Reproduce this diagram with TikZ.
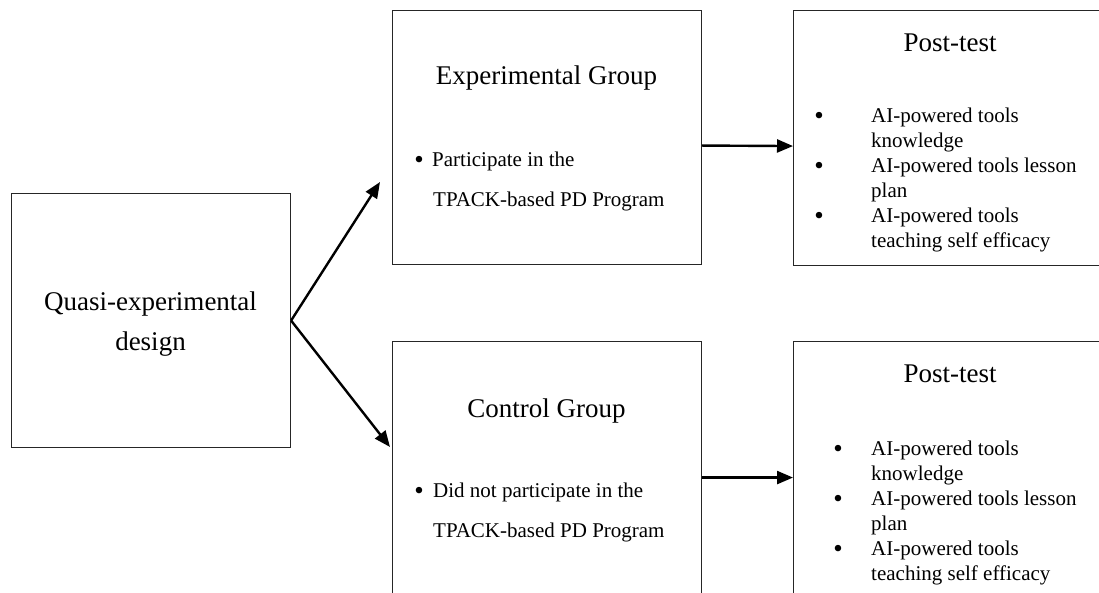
\documentclass[tikz,border=0pt]{standalone}
\usepackage{fontspec}
\setmainfont{Liberation Serif}
\usetikzlibrary{arrows.meta}
\begin{document}
\begin{tikzpicture}[x=1pt,y=-1pt,
  box/.style={draw=black!85, line width=1.1pt, inner sep=0pt, anchor=north west},
  title/.style={font=\fontsize{27}{32}\selectfont, anchor=base, inner sep=0pt},
  body/.style={font=\fontsize{21}{25}\selectfont, anchor=base west, inner sep=0pt},
  dot/.style={font=\fontsize{27}{32}\selectfont, anchor=base, inner sep=0pt},
  arr/.style={-{Triangle[length=16pt,width=13pt]}, line width=2.4pt}]
\useasboundingbox (0,0) rectangle (1099,593);
\clip (0,0) rectangle (1099,593);
% boxes
\node[box, minimum width=279pt, minimum height=254pt] (qed) at (11,193) {};
\node[box, minimum width=309pt, minimum height=254pt] (exp) at (392,10) {};
\node[box, minimum width=320pt, minimum height=255pt] (post1) at (793,10) {};
\node[box, minimum width=309pt, minimum height=300pt] (ctl) at (392,341) {};
\node[box, minimum width=320pt, minimum height=300pt] (post2) at (793,341) {};
% left box text
\node[title] (qedA) at (150.5,310) {Quasi-experimental};
\node[title] (qedB) at (150.5,350) {design};
% experimental group
\node[title] (expT) at (546.5,85) {Experimental Group};
\node[dot] (expD) at (419,169) {•};
\node[body] (expA) at (432,167) {Participate in the};
\node[body] (expB) at (433,207) {TPACK-based PD Program};
% post-test 1
\node[title] (p1T) at (950,52) {Post-test};
\node[dot] (p1D1) at (819,125) {•};
\node[dot] (p1D2) at (819,175) {•};
\node[dot] (p1D3) at (819,225) {•};
\node[body] (p1A) at (871,123) {AI-powered tools};
\node[body] (p1B) at (871,148) {knowledge};
\node[body] (p1C) at (871,173) {AI-powered tools lesson};
\node[body] (p1E) at (871,198) {plan};
\node[body] (p1F) at (871,223) {AI-powered tools};
\node[body] (p1G) at (871,248) {teaching self efficacy};
% control group
\node[title] (ctlT) at (546.5,417) {Control Group};
\node[dot] (ctlD) at (419,499) {•};
\node[body] (ctlA) at (433,497) {Did not participate in the};
\node[body] (ctlB) at (433,537) {TPACK-based PD Program};
% post-test 2
\node[title] (p2T) at (950,382) {Post-test};
\node[dot] (p2D1) at (838,457) {•};
\node[dot] (p2D2) at (838,507) {•};
\node[dot] (p2D3) at (838,557) {•};
\node[body] (p2A) at (871,455) {AI-powered tools};
\node[body] (p2B) at (871,480) {knowledge};
\node[body] (p2C) at (871,505) {AI-powered tools lesson};
\node[body] (p2E) at (871,530) {plan};
\node[body] (p2F) at (871,555) {AI-powered tools};
\node[body] (p2G) at (871,580) {teaching self efficacy};
% connectors
\coordinate (t1) at (380,182);
\coordinate (t2) at (390,447);
\draw[arr] (qed.east) -- (t1);
\draw[arr] (qed.east) -- (t2);
\draw[arr] ([yshift=-8pt]exp.east) -- ([yshift=-8pt]post1.west);
\draw[arr] ([yshift=14pt]ctl.east) -- ([yshift=14pt]post2.west);
\end{tikzpicture}
\end{document}
